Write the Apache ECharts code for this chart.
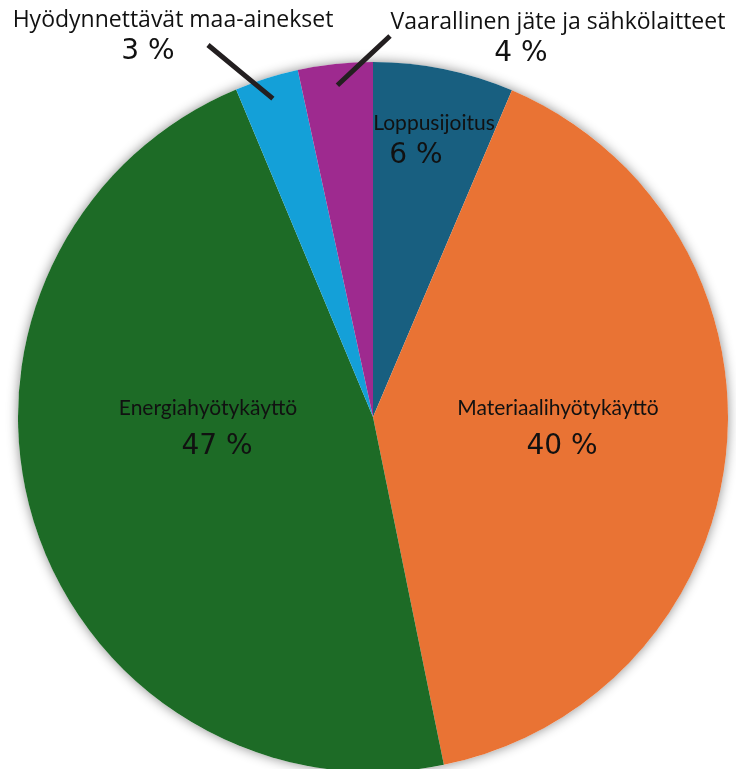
<!DOCTYPE html>
<html>
<head>
<meta charset="utf-8">
<script src="https://cdn.jsdelivr.net/npm/echarts@6/dist/echarts.min.js"></script>
<style>
  html, body { margin: 0; padding: 0; background: #fff; }
  #chart { width: 736px; height: 769px; }
</style>
</head>
<body>
<div id="chart"></div>
<script>
// jätteiden käsittely, osuudet (%)
const categories = [
  "Loppusijoitus",
  "Materiaalihyötykäyttö",
  "Energiahyötykäyttö",
  "Hyödynnettävät maa-ainekset",
  "Vaarallinen jäte ja sähkölaitteet"
];
const shares = [6.4, 40.4, 46.9, 2.9, 3.4];
const shareLabels = ["6 %", "40 %", "47 %", "3 %", "4 %"];
const colors = ["#185f80", "#e97334", "#1d6b26", "#14a0d8", "#9e2a8f"];

// layout
const cx = 373, cy = 417, R = 355;
const anchors = [[434, 141], [558, 428], [208, 428], [173, 37], [558, 39]];
const lineEnds = { 3: [208, 45], 4: [390, 36] };
const pctPad = [[0, 36, 0, 0], [0, 0, 0, 8], [0, 0, 0, 18], [0, 50, 0, 0], [0, 74, 0, 0]];

const total = shares.reduce((a, b) => a + b, 0);
function midDir(i) {
  let before = 0;
  for (let k = 0; k < i; k++) before += shares[k];
  const a = (before + shares[i] / 2) / total * Math.PI * 2;
  return [Math.sin(a), -Math.cos(a)];
}

function richStyles(i) {
  const inner1 = i === 0;
  return {
    n: { fontFamily: "Lato", fontSize: 21, color: "#111", lineHeight: inner1 ? 30 : 38, align: "center" },
    p: { fontFamily: "DejaVu Sans", fontSize: 28, color: "#111", lineHeight: inner1 ? 36 : 40, align: "center", padding: pctPad[i] },
    o: { fontFamily: "Open Sans", fontSize: 23, color: "#111", lineHeight: 30, align: "center" },
    q: { fontFamily: "DejaVu Sans", fontSize: 28, color: "#111", lineHeight: 34, align: "center", padding: pctPad[i] }
  };
}

// sectors + inner labels
const sliceData = categories.map(function (name, i) {
  const outer = i >= 3;
  return {
    name: name,
    value: shares[i],
    itemStyle: { color: colors[i] },
    label: {
      show: !outer,
      position: "inside",
      formatter: "{n|" + name + "}\n{p|" + shareLabels[i] + "}",
      rich: richStyles(i)
    }
  };
});

// transparent overlay carrying outer labels and leader lines
const outerData = categories.map(function (name, i) {
  const outer = i >= 3;
  return {
    name: name,
    value: shares[i],
    itemStyle: { color: "rgba(0,0,0,0)" },
    label: {
      show: outer,
      position: "outside",
      formatter: "{o|" + name + "}\n{q|" + shareLabels[i] + "}",
      rich: richStyles(i)
    },
    labelLine: {
      show: outer,
      lineStyle: { color: "#231f20", width: 5 }
    }
  };
});

function layout(params) {
  const i = params.dataIndex;
  const res = { x: anchors[i][0], y: anchors[i][1], align: "center", verticalAlign: "middle" };
  if (lineEnds[i]) {
    const d = midDir(i);
    const s = [cx + d[0] * R * 0.94, cy + d[1] * R * 0.94];
    const e = lineEnds[i];
    res.labelLinePoints = [s, [(s[0] + e[0]) / 2, (s[1] + e[1]) / 2], e];
  }
  return res;
}

const chart = echarts.init(document.getElementById("chart"), null, { renderer: "canvas" });
chart.setOption({
  animation: false,
  backgroundColor: "#fff",
  series: [
    {
      type: "pie",
      silent: true,
      z: 1,
      center: [cx, cy],
      radius: R,
      label: { show: false },
      labelLine: { show: false },
      itemStyle: { color: "#fff", shadowBlur: 12, shadowColor: "rgba(0,0,0,0.45)" },
      data: [{ value: 1 }]
    },
    {
      type: "pie",
      z: 2,
      center: [cx, cy],
      radius: R,
      startAngle: 90,
      clockwise: true,
      avoidLabelOverlap: false,
      itemStyle: { borderWidth: 0 },
      labelLine: { show: false },
      data: sliceData,
      labelLayout: layout
    },
    {
      type: "pie",
      z: 3,
      silent: true,
      center: [cx, cy],
      radius: R,
      startAngle: 90,
      clockwise: true,
      avoidLabelOverlap: false,
      itemStyle: { borderWidth: 0 },
      data: outerData,
      labelLayout: layout
    }
  ]
});
</script>
</body>
</html>
